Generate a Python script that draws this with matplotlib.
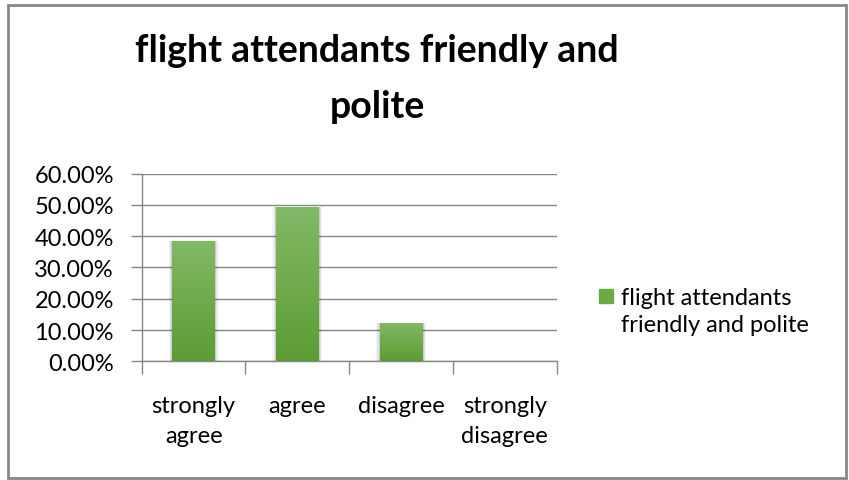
import numpy as np
import matplotlib
matplotlib.use("Agg")
import matplotlib.pyplot as plt
from matplotlib.patches import Rectangle
from matplotlib.ticker import FuncFormatter

# data (n = 65 answers)
categories = ["strongly\nagree", "agree", "disagree", "strongly\ndisagree"]
shares = [0.3846, 0.4923, 0.1231, 0.0]
series_name = "flight attendants\nfriendly and polite"
title = "flight attendants friendly and\npolite"

plt.rcParams['font.family'] = ['Lato', 'DejaVu Sans']

fig = plt.figure(figsize=(8.49, 4.81), dpi=100)
ax = fig.add_axes([0.1669, 0.2468, 0.4888, 0.39])

x = np.arange(len(categories))
w = 0.41
bars = ax.bar(x, shares, width=w, color='#6aaa40', zorder=3)

# vertical gradient + soft shadow on each bar
grad = np.linspace(0, 1, 256).reshape(-1, 1)
cmap = matplotlib.colors.LinearSegmentedColormap.from_list('g', ['#5c9c33', '#83b966'])
for b in bars:
    h = b.get_height()
    if h <= 0:
        continue
    x0 = b.get_x()
    for k, a in enumerate([0.10, 0.07, 0.04]):
        d = 0.012 * (k + 1)
        ax.add_patch(Rectangle((x0 - d, 0), w + 2 * d, h + d * 0.02, color='#000000',
                               alpha=a, lw=0, zorder=2))
    im = ax.imshow(grad, extent=[x0, x0 + w, 0, h], origin='lower', cmap=cmap,
                   aspect='auto', zorder=4)
    im.set_clip_path(b)

ax.set_xlim(-0.5, len(categories) - 0.5)
ax.set_ylim(0, 0.6)
ax.set_yticks(np.arange(0, 0.61, 0.1))
ax.yaxis.set_major_formatter(FuncFormatter(lambda v, p: f"{v * 100:.2f}%"))
ax.set_xticks(x)
ax.set_xticklabels(categories, fontsize=17, linespacing=1.55)
ax.set_xticks(np.arange(-0.5, len(categories), 1), minor=True)
ax.tick_params(axis='x', which='major', length=0, pad=24)
ax.tick_params(axis='x', which='minor', length=9, width=1, color='#868686')
ax.tick_params(axis='y', length=8, width=1, color='#868686', labelsize=17, pad=12)
ax.grid(axis='y', color='#868686', lw=1, zorder=1)
for s in ['top', 'right']:
    ax.spines[s].set_visible(False)
for s in ['left', 'bottom']:
    ax.spines[s].set_color('#868686')
    ax.spines[s].set_linewidth(1)

fig.text(0.444, 1 - 79 / 481, title, ha='center', va='center', fontsize=27,
         fontweight='bold', linespacing=1.75)

# legend
fig.patches.append(Rectangle((599 / 849, 1 - 304 / 481), 14 / 849, 14 / 481,
                             transform=fig.transFigure, color='#6aaa40'))
fig.text(621 / 849, 1 - 312 / 481, series_name, ha='left', va='center',
         fontsize=17, linespacing=1.3)

# outer chart border
fig.patches.append(Rectangle((7.5 / 849, 2 / 481), 838.5 / 849, 473.5 / 481,
                             transform=fig.transFigure, fill=False,
                             edgecolor='#868686', lw=2))

fig.savefig("out.png", dpi=100)
